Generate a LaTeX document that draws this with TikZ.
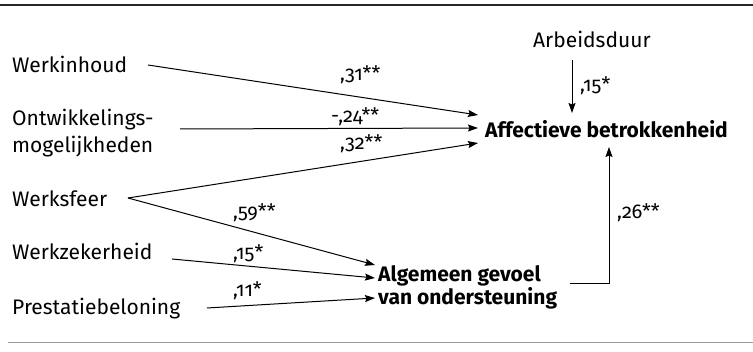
\documentclass[tikz,border=0pt]{standalone}
\usepackage{fontspec}
\setmainfont{Fira Sans}[Numbers=OldStyle]
\usetikzlibrary{arrows.meta,calc}
\begin{document}
\begin{tikzpicture}[x=1pt,y=-1pt,
  lbl/.style={inner sep=0pt, anchor=base west, font=\fontsize{21}{27}\selectfont},
  bld/.style={inner sep=0pt, anchor=base west, align=left, font=\fontsize{21}{23}\selectfont\bfseries},
  coef/.style={inner sep=0pt, anchor=base west, font=\fontsize{20}{22}\selectfont},
  con/.style={line width=1pt, black},
  arr/.style={con, -{Stealth[length=10pt,width=7pt,inset=1.5pt]}}]
\useasboundingbox (0,0) rectangle (753,352);
\draw[line width=2pt, black!85] (0,5) -- (753,5);
\draw[line width=1pt, black!40] (8,343) -- (753,343);

\node[lbl] (wi) at (12,73) {Werkinhoud};
\node[lbl, align=left] (ow) at (12,153) {Ontwikkelings-\\mogelijkheden};
\node[lbl] (ws) at (12,207) {Werksfeer};
\node[lbl] (wz) at (12,260) {Werkzekerheid};
\node[lbl] (pb) at (12,315) {Prestatiebeloning};
\node[lbl] (ad) at (533,48) {Arbeidsduur};
\node[bld] (ab) at (485,138) {Affectieve betrokkenheid};
\node[bld] (ag) at (378,305) {Algemeen gevoel\\van ondersteuning};

\node[coef] (c1) at (340,81) {,31**};
\node[coef] (c2) at (331,123) {-,24**};
\node[coef] (c3) at (340,150) {,32**};
\node[coef] (c4) at (233,219) {,59**};
\node[coef] (c5) at (233,260) {,15*};
\node[coef] (c6) at (233,297) {,11*};
\node[coef] (c7) at (580,92) {,15*};
\node[coef] (c8) at (617,219) {,26**};

\draw[arr] ($(wi.base west)+(136,-8)$) -- ($(ab.base west)+(-7,-23)$);
\draw[arr] ($(ow.base west)+(168,-24)$) -- ($(ab.base west)+(-7,-10)$);
\draw[arr] ($(ws.base west)+(116,-9)$) -- ($(ab.base west)+(-7,5)$);
\draw[arr] ($(ws.base west)+(116,-9)$) -- ($(ag.base west)+(-3,-40)$);
\draw[arr] ($(wz.base west)+(160,-1)$) -- ($(ag.base west)+(-3,-27)$);
\draw[arr] ($(pb.base west)+(195,-7)$) -- ($(ag.base west)+(-3,-7)$);
\draw[arr] ($(ad.base west)+(39,12)$) -- ($(ab.base west)+(87,-25)$);
\draw[arr] ($(ag.base west)+(192,-21)$) -| ($(ab.base west)+(124,9)$);
\end{tikzpicture}
\end{document}
